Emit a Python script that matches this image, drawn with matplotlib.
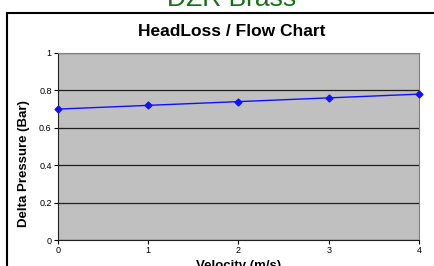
import matplotlib
matplotlib.use('Agg')
import matplotlib.pyplot as plt
from matplotlib.patches import Rectangle

velocity = [0, 1, 2, 3, 4]
pressure = [0.70, 0.72, 0.74, 0.76, 0.78]
yticks = [0, 0.2, 0.4, 0.6, 0.8, 1]
ytick_labels = ['0', '0.2', '0.4', '0.6', '0.8', '1']

plt.rcParams['font.family'] = ['Liberation Sans', 'DejaVu Sans']

W, H = 435, 266
fig = plt.figure(figsize=(W / 100, H / 100), dpi=100)

# outer chart frame
frame = Rectangle((7 / W, -0.1), 1.2, 1 - 13 / H + 0.1, transform=fig.transFigure,
                  fill=False, edgecolor='black', linewidth=1.5)
fig.patches.append(frame)

# heading cut off at the top
fig.text(232 / W, 1 - 6 / H, 'DZR Brass', color='#157015', fontsize=19,
         ha='center', va='baseline')
fig.text(232 / W, 1 - 32 / H, 'HeadLoss / Flow Chart', fontsize=12.5,
         fontweight='bold', ha='center', va='center')

ax = fig.add_axes([58 / W, 1 - 240 / H, (419 - 58) / W, (240 - 53) / H])
ax.set_facecolor('#c0c0c0')
ax.plot(velocity, pressure, color='#1010ff', linewidth=1, marker='D',
        markersize=3.5, clip_on=False, zorder=5)

ax.set_xlim(0, 4)
ax.set_ylim(0, 1)
ax.set_xticks(velocity)
ax.set_yticks(yticks)
ax.set_yticklabels(ytick_labels)
ax.tick_params(labelsize=6.5, length=3, width=0.8, pad=1.5)
ax.yaxis.grid(True, color='#202020', linewidth=0.9)
ax.set_axisbelow(True)

for s in ['top', 'right']:
    ax.spines[s].set_color('#808080')
for s in ['left', 'bottom']:
    ax.spines[s].set_color('#202020')

ax.set_ylabel('Delta Pressure (Bar)', fontsize=9.5, fontweight='bold')
ax.yaxis.set_label_coords(-0.078, 0.41)
ax.set_xlabel('Velocity (m/s)', fontsize=9.5, fontweight='bold', labelpad=3.5)

fig.savefig('out.png', dpi=100)
